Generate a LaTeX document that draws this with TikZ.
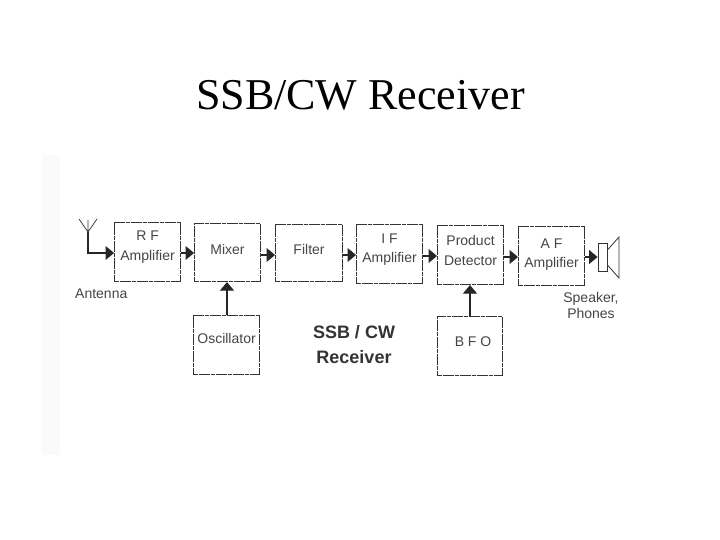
\documentclass[tikz,border=0pt]{standalone}
\usepackage{fontspec}
\setmainfont{Liberation Serif}
\setsansfont{Liberation Sans}
\usetikzlibrary{arrows.meta}
\definecolor{ink}{gray}{0.2}
\definecolor{txt}{gray}{0.27}
\newcommand{\blocktext}[2]{\raisebox{#1}[0pt][0pt]{\begin{tabular}{@{}c@{}}#2\end{tabular}}}
\tikzset{
  block/.style={draw=ink,line width=1.1pt,dash pattern=on 1.5pt off 0.2pt,fill=white,inner sep=0pt,anchor=north west,align=center,font=\sffamily\fontsize{14}{19.5}\selectfont,text=txt},
  sig/.style={draw=black!85,line width=1.1pt,-{Triangle[length=8.5pt,width=14pt]}},
  lab/.style={font=\sffamily\fontsize{14}{16}\selectfont,text=txt,align=center,inner sep=0pt},
}
\begin{document}
\begin{tikzpicture}[x=1pt,y=-1pt]
\useasboundingbox (0,0) rectangle (720,540);
\fill[white] (0,0) rectangle (720,540);
\fill[black!2] (42,155) rectangle (60,455);
\node[font=\fontsize{44}{48}\selectfont,anchor=base,inner sep=0pt] (title) at (360.5,110) {SSB/CW Receiver};
\node[block,minimum width=66pt,minimum height=59pt] (rf) at (114,222) {\blocktext{2pt}{R F\\Amplifier}};
\node[block,minimum width=66pt,minimum height=58pt] (mixer) at (194,223) {\blocktext{-1.6pt}{Mixer}};
\node[block,minimum width=67pt,minimum height=57pt] (filter) at (275,224) {\blocktext{-1pt}{Filter}};
\node[block,minimum width=66pt,minimum height=59pt] (if) at (356,224) {\blocktext{1.5pt}{I F\\Amplifier}};
\node[block,minimum width=66pt,minimum height=59pt] (prod) at (437,225) {\blocktext{0pt}{Product\\Detector}};
\node[block,minimum width=66pt,minimum height=59pt] (af) at (518,226) {\blocktext{-1.5pt}{A F\\Amplifier}};
\node[block,minimum width=66pt,minimum height=59pt] (osc) at (193,315) {\blocktext{2pt}{Oscillator}};
\node[block,minimum width=65pt,minimum height=59pt] (bfo) at (437,316) {\hspace*{6pt}\blocktext{0pt}{B F O}};
\node[lab,anchor=west] (ant) at (75,294) {Antenna};
\node[lab] (spk) at (591,305) {Speaker,\\Phones};
\node[font=\sffamily\bfseries\fontsize{18}{25}\selectfont,align=center,text=ink,inner sep=0pt] (big) at (354,345) {SSB / CW\\Receiver};
\coordinate (anttop) at (88,232);
\coordinate (antbot) at (88,253);
\draw[draw=ink,line width=0.7pt] (79,219) -- (anttop) -- (97,219) (88,220) -- (anttop);
\draw[sig] (anttop) -- (antbot) -- (rf.west |- antbot);
\draw[sig] (rf.east |- 0,253) -- (mixer.west |- 0,253);
\draw[sig] (mixer.east |- 0,255) -- (filter.west |- 0,255);
\draw[sig] (filter.east |- 0,255) -- (if.west |- 0,255);
\draw[sig] (if.east |- 0,256) -- (prod.west |- 0,256);
\draw[sig] (prod.east |- 0,257) -- (af.west |- 0,257);
\node[draw=ink,line width=0.9pt,minimum width=9pt,minimum height=28pt,inner sep=0pt] (spkbox) at (602.5,257) {};
\draw[sig] (af.east |- spkbox) -- (spkbox.west);
\coordinate (c1) at (619,237);
\coordinate (c2) at (619,278);
\draw[draw=ink,line width=0.8pt] (spkbox.east |- 0,250) -- (c1) -- (c2) -- (spkbox.east |- 0,265);
\draw[sig] (osc.north -| 227,0) -- (mixer.south -| 227,0);
\draw[sig] (bfo.north -| 470,0) -- (prod.south -| 470,0);
\end{tikzpicture}
\end{document}
